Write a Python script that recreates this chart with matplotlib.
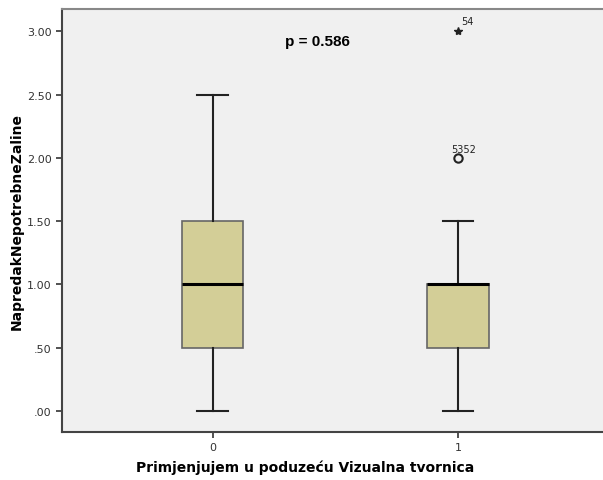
"""
Boxplot - NapredakNepotrebneZaline by Vizualna tvornica group
SPSS-style layout
"""

import matplotlib
matplotlib.use('Agg')
import matplotlib.pyplot as plt

# Data
groups = ['0', '1']
whislo = [0.0, 0.0]
q1 = [0.5, 0.5]
med = [1.0, 1.0]
q3 = [1.5, 1.0]
whishi = [2.5, 1.5]
outliers_circle = [[], [2.0]]
outliers_star = [[], [3.0]]
outlier_labels = {(1, 2.0): '5352', (1, 3.0): '54'}
y_ticks = [0.0, 0.5, 1.0, 1.5, 2.0, 2.5, 3.0]
y_tick_labels = ['.00', '.50', '1.00', '1.50', '2.00', '2.50', '3.00']
p_text = 'p = 0.586'

BOX_COLOR = '#D3CE97'
BG_COLOR = '#F0F0F0'

fig = plt.figure(figsize=(6.03, 4.81), dpi=100)
ax = fig.add_axes([0.1028, 0.0998, 0.8972, 0.879])
ax.set_facecolor(BG_COLOR)

positions = list(range(len(groups)))
stats = []
for i, g in enumerate(groups):
    stats.append(dict(label=g, whislo=whislo[i], q1=q1[i], med=med[i],
                      q3=q3[i], whishi=whishi[i], fliers=[]))

ax.bxp(stats, positions=positions, widths=0.25, patch_artist=True,
       showfliers=False,
       boxprops=dict(facecolor=BOX_COLOR, edgecolor='#666666', linewidth=1.2),
       medianprops=dict(color='black', linewidth=2.2),
       whiskerprops=dict(color='#222222', linewidth=1.5),
       capprops=dict(color='#222222', linewidth=1.5),
       capwidths=0.125)

# outliers
for i, pos in enumerate(positions):
    for v in outliers_circle[i]:
        ax.plot(pos, v, marker='o', markersize=6, markerfacecolor='none',
                markeredgecolor='#222222', markeredgewidth=1.5, linestyle='none')
        ax.annotate(outlier_labels[(i, v)], (pos, v), xytext=(-5, 4),
                    textcoords='offset points', fontsize=7, color='#222222')
    for v in outliers_star[i]:
        ax.plot(pos, v, marker='*', markersize=6, color='#222222',
                linestyle='none')
        ax.annotate(outlier_labels[(i, v)], (pos, v), xytext=(2, 5),
                    textcoords='offset points', fontsize=7, color='#222222')

ax.text(0.428, 2.92, p_text, ha='center', va='center', fontsize=11,
        fontweight='bold', family='Liberation Sans')

ax.set_xlim(-0.613, 1.59)
ax.set_ylim(-0.166, 3.174)
ax.set_xticks(positions)
ax.set_xticklabels(groups, fontsize=8, color='#333333')
ax.set_yticks(y_ticks)
ax.set_yticklabels(y_tick_labels, fontsize=8, color='#333333')
ax.tick_params(length=4, width=1.2, color='#333333')

for side in ['left', 'bottom']:
    ax.spines[side].set_color('#444444')
    ax.spines[side].set_linewidth(1.5)
ax.spines['top'].set_color('#888888')
ax.spines['top'].set_linewidth(1.5)
ax.spines['right'].set_visible(False)

ax.set_xlabel('Primjenjujem u poduzeću Vizualna tvornica', fontsize=10,
              fontweight='bold')
ax.xaxis.set_label_coords(0.449, -0.065)
ax.set_ylabel('NapredakNepotrebneZaline', fontsize=10, fontweight='bold')
ax.yaxis.set_label_coords(-0.07, 0.5)

fig.savefig('out.png', dpi=100)
